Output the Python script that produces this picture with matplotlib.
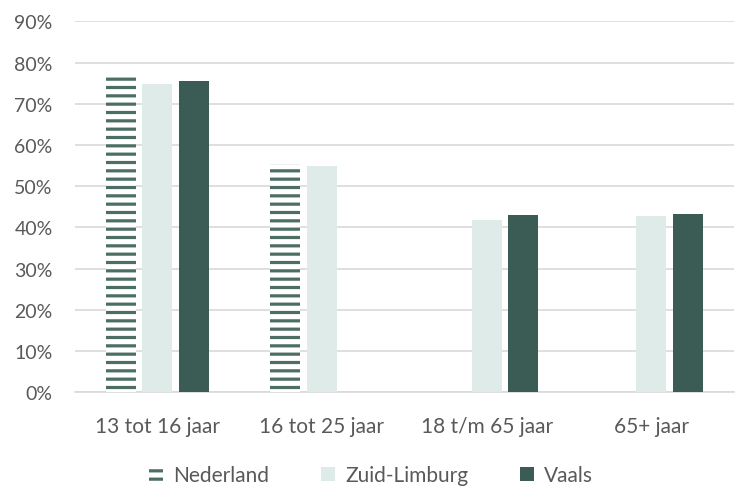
import matplotlib.pyplot as plt
import numpy as np
from matplotlib.patches import Patch
from matplotlib.ticker import PercentFormatter

categories = ['13 tot 16 jaar', '16 tot 25 jaar', '18 t/m 65 jaar', '65+ jaar']
series_names = ['Nederland', 'Zuid-Limburg', 'Vaals']
nederland = [0.769, 0.554, np.nan, np.nan]
zuid_limburg = [0.748, 0.550, 0.419, 0.428]
vaals = [0.755, np.nan, 0.431, 0.433]
yticks = np.arange(0, 0.91, 0.1)

plt.rcParams['font.family'] = ['Lato', 'DejaVu Sans']
plt.rcParams['hatch.linewidth'] = 2.3

dark = '#3a5c54'
light = '#dfebe8'
stripe = '#4d6e65'
txt = '#595959'
grid = '#d9d9d9'

fig = plt.figure(figsize=(7.35, 4.89), dpi=100)
ax = fig.add_axes([0.102, 0.196, 0.896, 0.758])

x = np.arange(len(categories))
w = 0.182
step = 0.222

ax.bar(x - step, nederland, w, facecolor='white', edgecolor=stripe,
       hatch='--', linewidth=0, zorder=3)
ax.bar(x, zuid_limburg, w, color=light, zorder=3)
ax.bar(x + step, vaals, w, color=dark, zorder=3)

ax.set_ylim(0, 0.9)
ax.set_xlim(-0.5, len(categories) - 0.5)
ax.set_yticks(yticks)
ax.yaxis.set_major_formatter(PercentFormatter(1.0, decimals=0))
ax.set_xticks(x)
ax.set_xticklabels(categories)
ax.yaxis.grid(True, color=grid, linewidth=1.2, zorder=0)
ax.set_axisbelow(True)
for s in ['top', 'right', 'left']:
    ax.spines[s].set_visible(False)
ax.spines['bottom'].set_color(grid)
ax.spines['bottom'].set_linewidth(1.2)
ax.tick_params(axis='y', length=0, labelsize=14, colors=txt, pad=16)
ax.tick_params(axis='x', length=0, labelsize=15, colors=txt, pad=17)

handles = [
    Patch(facecolor='white', edgecolor=stripe, hatch='--', linewidth=0),
    Patch(facecolor=light),
    Patch(facecolor=dark),
]
fig.legend(handles, series_names, loc='center', bbox_to_anchor=(0.505, 0.026),
           ncol=3, frameon=False, fontsize=15, labelcolor=txt,
           handlelength=0.65, handleheight=0.65, handletextpad=0.5,
           columnspacing=2.5)

fig.savefig('out.png', dpi=100)
